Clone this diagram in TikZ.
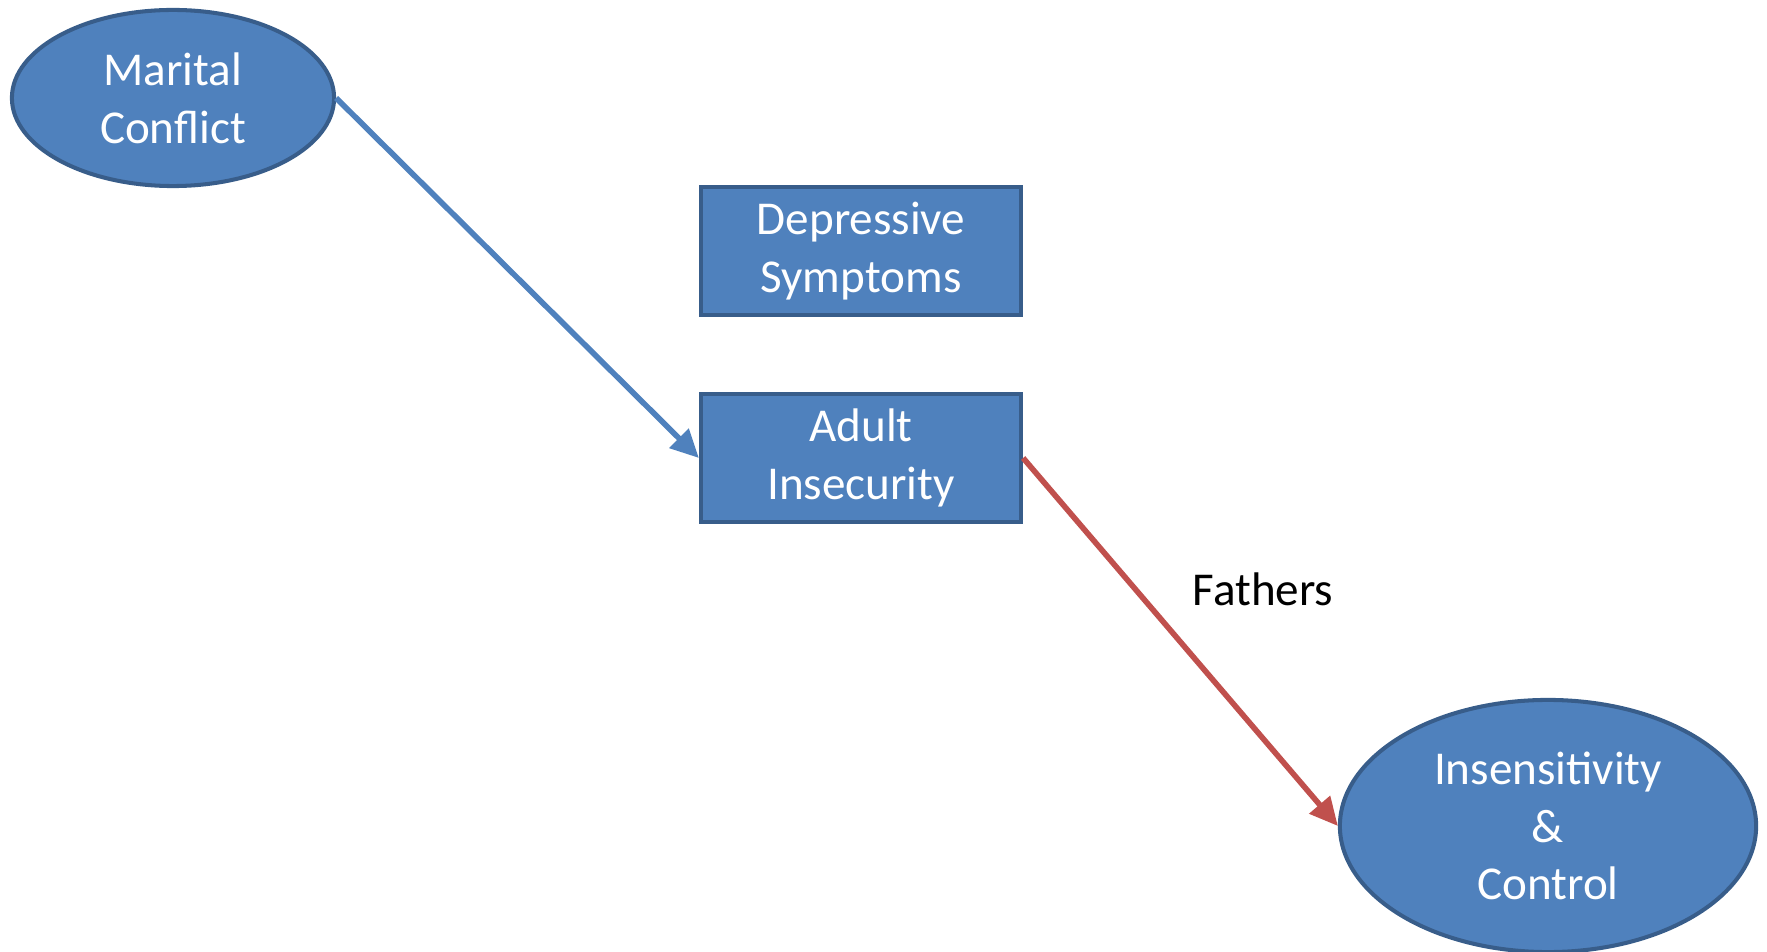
\documentclass[tikz,border=0pt]{standalone}
\usepackage{fontspec}
\setmainfont{Carlito}
\usepackage{tikz}
\usepackage{xcolor}
\usetikzlibrary{positioning,shapes,arrows.meta}

\definecolor{boxfill}{HTML}{4F81BD}
\definecolor{boxline}{HTML}{385D8A}
\definecolor{redline}{HTML}{C0504D}

\begin{document}
\begin{tikzpicture}[x=0.01cm,y=-0.01cm]
\tikzstyle{every node}=[draw=boxline,line width=1.15pt,fill=boxfill,text=white,align=center,font=\fontsize{13.4}{16.4}\selectfont,inner sep=0pt];
\tikzstyle{oval}=[shape=ellipse];
\tikzstyle{block}=[shape=rectangle];
\tikzstyle{path}=[line width=1.6pt,-{Triangle[length=8pt,width=7.5pt]}];

\useasboundingbox (0,0) rectangle (1767,952);

\node[oval,minimum width=3.22cm,minimum height=1.76cm] (mc) at (173,98) {Marital\\Conflict};
\node[block,minimum width=3.2cm,minimum height=1.28cm] (ds) at (861,251) {Depressive\\Symptoms};
\node[block,minimum width=3.2cm,minimum height=1.27cm] (ai) at (861,458) {Adult\\Insecurity};
\node[oval,minimum width=4.16cm,minimum height=2.52cm] (ic) at (1548,826) {Insensitivity\\\&\\Control};
\node[draw=none,fill=none,text=black] (fa) at (1263,589) {Fathers};

\draw[path,boxfill] (mc.east) -- (ai.west);
\draw[path,redline] (ai.east) -- (ic.west);
\end{tikzpicture}
\end{document}
